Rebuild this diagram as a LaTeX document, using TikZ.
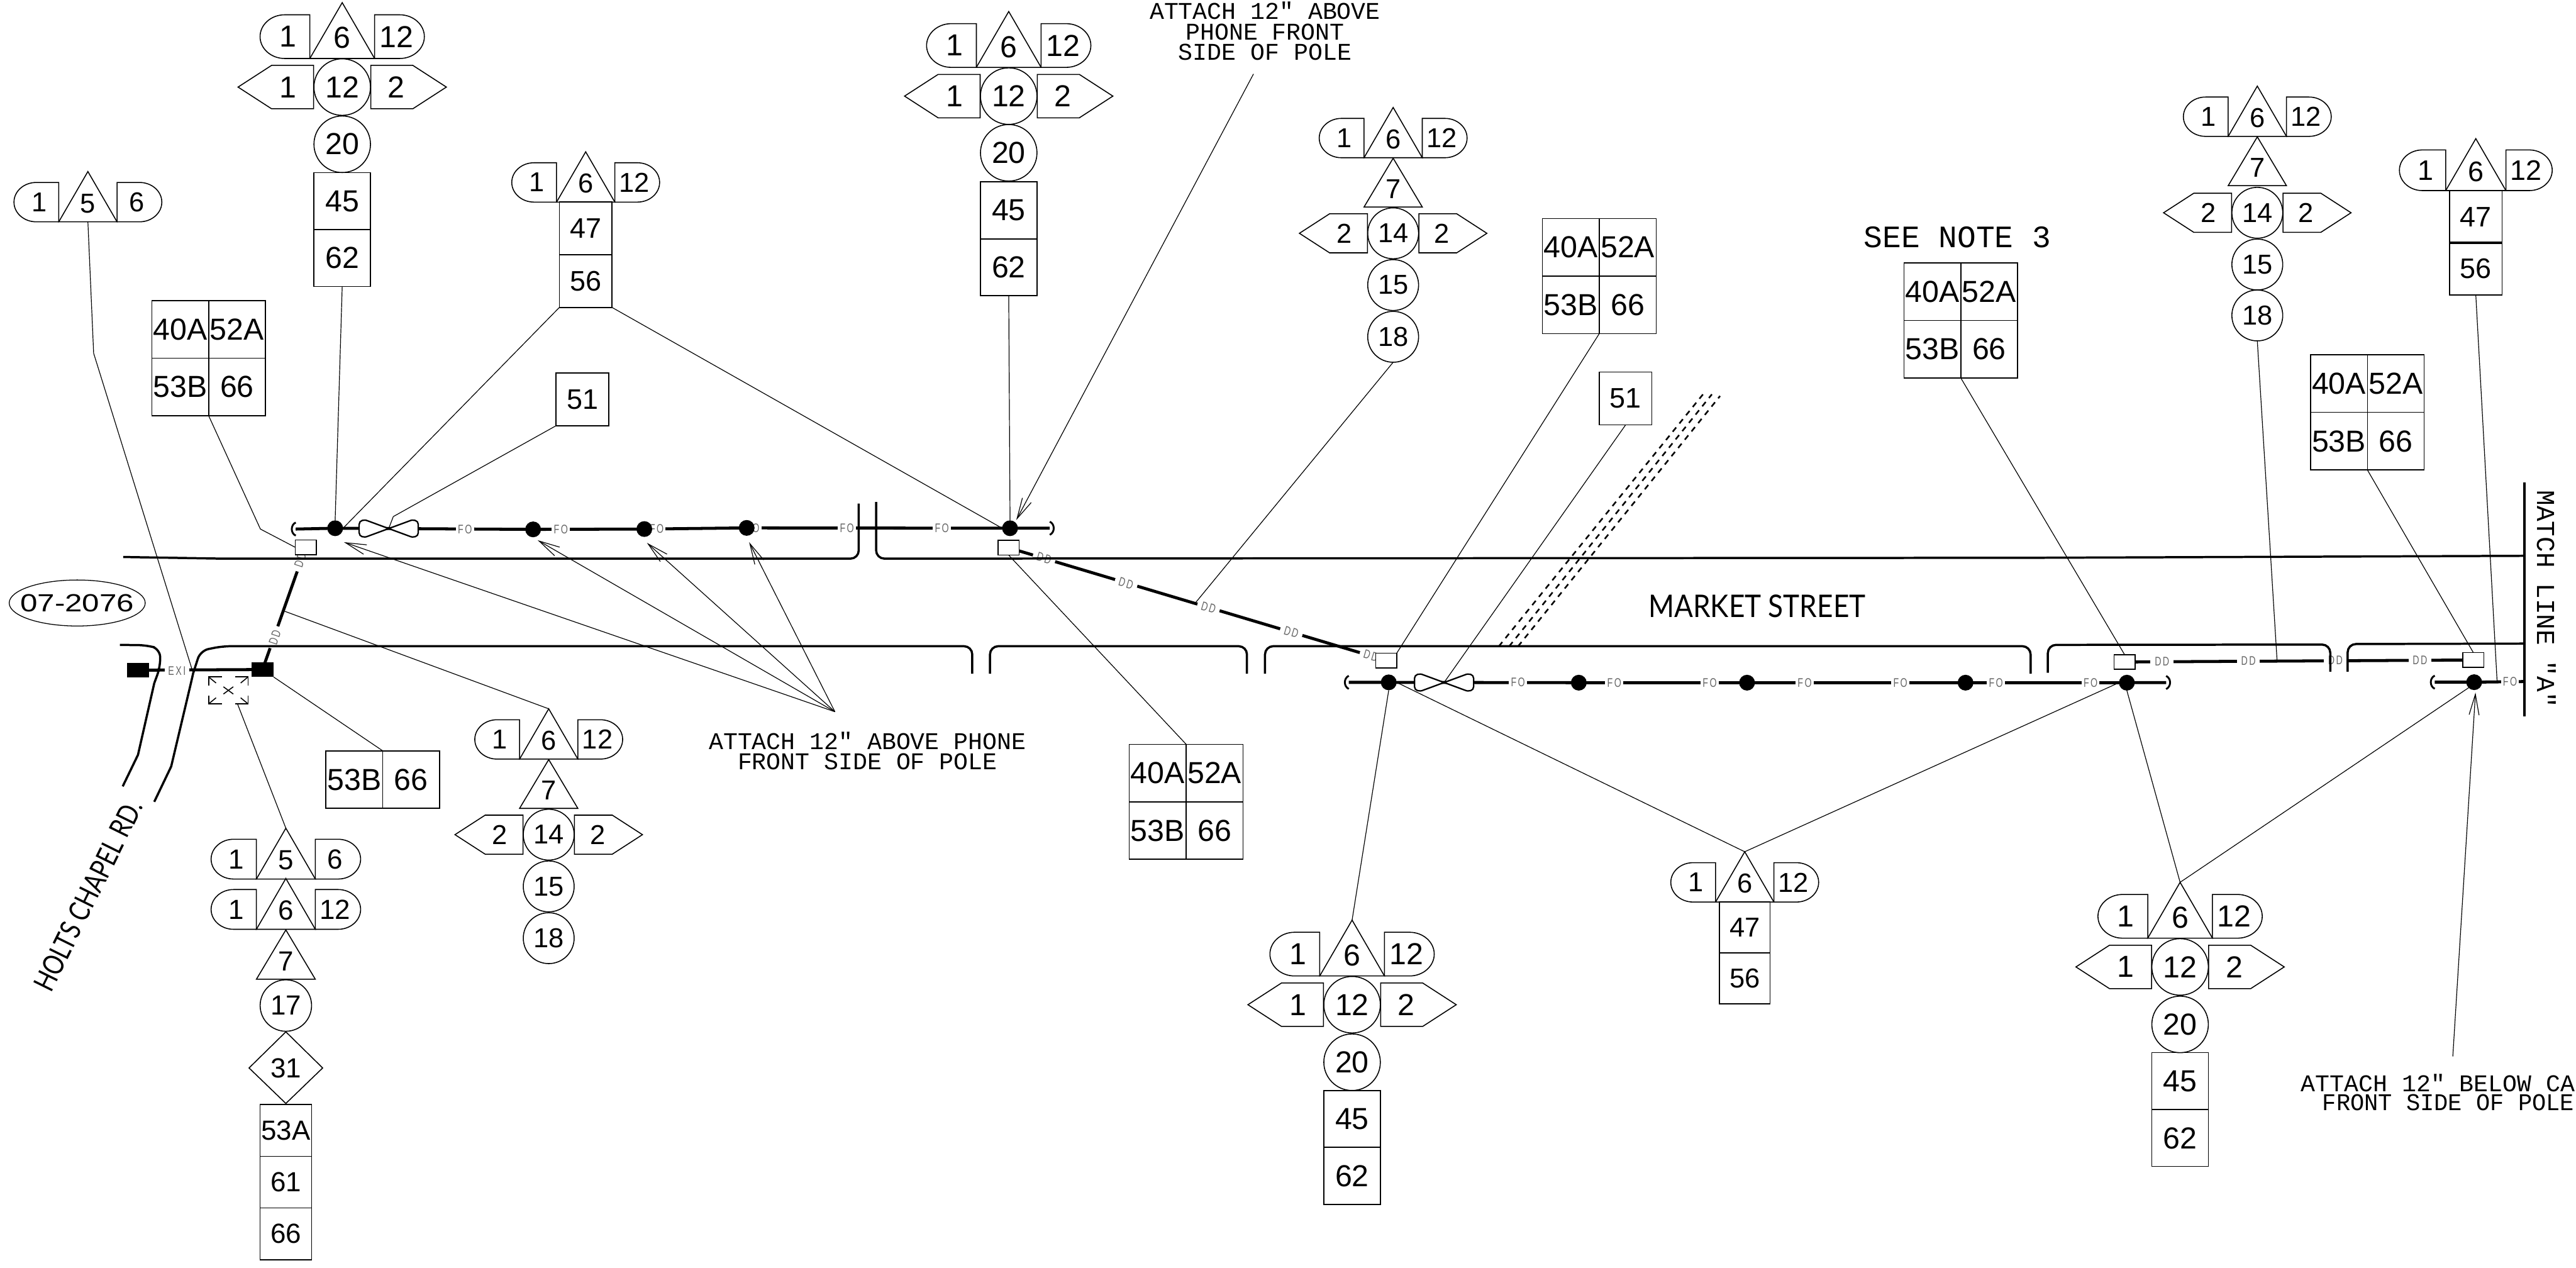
\documentclass[tikz,border=0pt]{standalone}
\usepackage{fontspec}
\setmainfont{Liberation Sans}
\newfontfamily\monof{Liberation Mono}
\newfontfamily\latof{Lato}
\usetikzlibrary{arrows.meta,shapes.geometric}
\pgfdeclarelayer{cables}
\pgfsetlayers{cables,main}
\def\SS{1}\def\FS{26.3}
\newcommand\setS[1]{\def\SS{#1}\pgfmathsetmacro\FS{26.3*#1}}
\newcommand\numf{\fontsize{\FS}{\FS}\selectfont}
\tikzset{
  sgn/.style={draw,line width=.85pt,line join=miter},
  num/.style={inner sep=0pt,outer sep=0pt,font=\numf},
  sgncirc/.style={num,draw,line width=.85pt,circle,minimum size={1.72cm*\SS}},
  sgnbox/.style={num,draw,line width=.85pt,rectangle,minimum width={1.72cm*\SS},minimum height={1.73cm*\SS}},
  gridbox/.style={num,draw,line width=.85pt,rectangle,minimum width=1.73cm,minimum height=1.75cm},
  leader/.style={draw,line width=.65pt},
  arrowed/.style={leader,-{Straight Barb[length=18pt,width=8.6pt,line width=.65pt]}},
  cable/.style={draw,line width=2.6pt},
  road/.style={draw,line width=1.9pt,rounded corners=.25cm},
  pole/.style={circle,fill=black,draw=none,inner sep=0pt,outer sep=0pt,minimum size=.48cm},
  sigbox/.style={rectangle,draw,line width=.85pt,fill=white,inner sep=0pt,outer sep=0pt,minimum width=.64cm,minimum height=.45cm},
  blk/.style={rectangle,fill=black,inner sep=0pt,outer sep=0pt,minimum width=.67cm,minimum height=.45cm},
  wlab/.style={fill=white,inner sep=0pt,outer sep=0pt,text=black!60,font=\fontsize{10.8}{10.8}\selectfont},
  note/.style={inner sep=0pt,align=center,font=\monof\fontsize{20.8}{17.6}\selectfont},
  capend/.style={draw,line width=1.6pt},
  tiewide/.style={draw,line width=1.25pt,fill=white,line join=round},
  tri3/.style={draw,line width=1.4pt,dash pattern=on 4.8pt off 4.4pt},
  xmark/.style={draw,line width=.85pt}
}
\newcommand\HeadT[6]{%
 \begin{scope}[shift={(#2,#3)},scale=\SS]
  \draw[sgn] (-19.7,0) -- (0,-34) -- (19.7,0) -- cycle;
  \draw[sgn] (-19.7,0) -- (-19.7,-26.6) -- (-35,-26.6) .. controls (-43.3,-26.6) and (-50,-20.6) .. (-50,-13.3) .. controls (-50,-6) and (-43.3,0) .. (-35,0) -- cycle;
  \draw[sgn] (19.7,0) -- (19.7,-26.6) -- (35,-26.6) .. controls (43.3,-26.6) and (50,-20.6) .. (50,-13.3) .. controls (50,-6) and (43.3,0) .. (35,0) -- cycle;
  \coordinate (#1-top) at (0,-34);
  \coordinate (#1-bot) at (0,0);
  \node[num] (#1-l) at (-33,-13.3) {#4};
  \node[num] (#1-c) at (0,-12.5) {#5};
  \node[num] (#1-r) at (33,-13.3) {#6};
 \end{scope}}
\newcommand\TriT[4]{%
 \begin{scope}[shift={(#2,#3)},scale=\SS]
  \draw[sgn] (-19.7,0) -- (0,-33) -- (19.7,0) -- cycle;
  \node[num] (#1) at (0,-12) {#4};
 \end{scope}}
\newcommand\ArrRow[6]{%
 \begin{scope}[shift={(#2,#3)},scale=\SS]
  \draw[sgn] (-17.4,-13.2) -- (-43,-13.2) -- (-63.4,0) -- (-43,13.2) -- (-17.4,13.2) -- cycle;
  \draw[sgn] (17.4,-13.2) -- (43,-13.2) -- (63.4,0) -- (43,13.2) -- (17.4,13.2) -- cycle;
  \node[sgncirc] (#1-c) at (0,0) {#5};
  \node[num] (#1-l) at (-33,0) {#4};
  \node[num] (#1-r) at (33,0) {#6};
 \end{scope}}
\newcommand\Circ[4]{\node[sgncirc] (#1) at (#2,#3) {#4};}
\newcommand\BoxN[4]{\node[sgnbox] (#1) at (#2,#3) {#4};}
\newcommand\GridN[7]{%
  \node[gridbox] (#1-a) at (#2-17.3,#3+17.5) {#4};
  \node[gridbox] (#1-b) at (#2+17.3,#3+17.5) {#5};
  \node[gridbox] (#1-c) at (#2-17.3,#3+52.5) {#6};
  \node[gridbox] (#1-d) at (#2+17.3,#3+52.5) {#7};
  \coordinate (#1-tm) at (#2,#3);
  \coordinate (#1-bm) at (#2,#3+70);}
\newcommand\Bowtie[3]{%
 \coordinate (#1) at (#2,#3);
 \begin{scope}[shift={(#2,#3)}]
  \draw[tiewide] (0,0) -- (-12.5,-4.6) .. controls (-15,-5.8) and (-18,-5) .. (-18,-2.5) -- (-18,2.5) .. controls (-18,5) and (-15,5.8) .. (-12.5,4.6) -- cycle;
  \draw[tiewide] (0,0) -- (12.5,-4.6) .. controls (15,-5.8) and (18,-5) .. (18,-2.5) -- (18,2.5) .. controls (18,5) and (15,5.8) .. (12.5,4.6) -- cycle;
 \end{scope}}
\newcommand\FOl[3]{\node[wlab,minimum width=.55cm] (#1) at (#2,#3) {\scalebox{.72}[1]{F\,O}};}
\newcommand\DDl[4]{\node[wlab,minimum width=.7cm,rotate=#4] (#1) at (#2,#3) {\scalebox{.72}[1]{D\,D}};}
\newcommand\CapL[3]{\draw[capend] (#1+2,#2-4) .. controls (#1-1.2,#2-2.5) and (#1-1.2,#2+2.5) .. (#1+2,#2+4);\coordinate (#3) at (#1+2,#2);}
\newcommand\CapR[3]{\draw[capend] (#1-2,#2-4) .. controls (#1+1.2,#2-2.5) and (#1+1.2,#2+2.5) .. (#1-2,#2+4);\coordinate (#3) at (#1-2,#2);}
\begin{document}
\begin{tikzpicture}[x=0.05cm,y=-0.05cm]
\useasboundingbox (0,0) rectangle (1568,771.4);

% ---------- poles, boxes
\CapL{178}{322}{capa}
\node[pole] (p1) at (204,321.5) {};
\node[pole] (p2) at (324.5,322.2) {};
\node[pole] (p3) at (392.2,322) {};
\node[pole] (p4) at (454.5,321.3) {};
\node[pole] (p5) at (614.8,321.5) {};
\CapR{641}{321.5}{capb}
\Bowtie{bow1}{236.6}{321.7}
\CapL{819}{415.3}{capc}
\node[pole] (p6) at (845.3,415.3) {};
\node[pole] (p7) at (961,415.5) {};
\node[pole] (p8) at (1063.4,415.5) {};
\node[pole] (p9) at (1196.4,415.5) {};
\node[pole] (p10) at (1294.6,415.5) {};
\CapR{1320.5}{415.4}{capd}
\Bowtie{bow2}{879}{415.4}
\CapL{1480}{415.2}{cape}
\node[pole] (p11) at (1506,415.2) {};
\coordinate (cf) at (1536.6,414.8);
\node[blk] (bk1) at (84,407.9) {};
\node[blk] (bk2) at (159.8,407.5) {};

% ---------- roads
\draw[road] (75,339) -- (135,340) -- (522.7,340) -- (522.7,306.5);
\draw[road] (533.3,305.5) -- (533.3,340) -- (1234,339.5) -- (1536,338.3);
\draw[road] (73,392.5) -- (89.4,392.7) -- (97.5,395) -- (97.5,406) -- (93.9,415.8);
\draw[line width=1.9pt,line join=round] (93.9,415.8) -- (84,459.4) -- (74.7,478.6);
\draw[road] (591.8,410) -- (591.8,393.3) -- (135.5,393.3) -- (122,396) -- (117.6,409.7);
\draw[line width=1.9pt,line join=round] (117.6,409.7) -- (116.2,415.8) -- (104.2,466.5) -- (93.9,488);
\draw[road] (602.6,410) -- (602.6,393.3) -- (759,393.3) -- (759,410);
\draw[road] (770,410) -- (770,393.3) -- (1236,393.3) -- (1236,410);
\draw[road] (1246.5,409.5) -- (1246.5,392.5) -- (1418.4,392.3) -- (1418.4,408.8);
\draw[road] (1429,408.8) -- (1429,392) -- (1536,391.7);
\coordinate (mla) at (1536.6,293.8);
\coordinate (mlb) at (1536.6,436);
\draw[line width=1.9pt] (mla) -- (mlb);
\node[rotate=-90,inner sep=0pt,font=\monof\fontsize{22.4}{22.4}\selectfont] (matchl) at (1550,364.5) {MATCH LINE ″A″};

% ---------- crossing dashed lines
\coordinate (da1) at (912.3,393.4);\coordinate (da2) at (1037,239.5);
\coordinate (db1) at (918.6,393.4);\coordinate (db2) at (1042,240);
\coordinate (dc1) at (924,393.4);\coordinate (dc2) at (1047,241);
\draw[tri3] (da1) -- (da2);\draw[tri3] (db1) -- (db2);\draw[tri3] (dc1) -- (dc2);

% ---------- X box
\begin{scope}[shift={(139,420.2)}]
 \coordinate (xb) at (0,0);
 \draw[xmark] (-4,-8.2) -- (-12,-8.2) -- (-12,-3); \draw[xmark] (-12,-8.2) -- (-7.5,-4.5);
 \draw[xmark] (4,-8.2) -- (12,-8.2) -- (12,-3); \draw[xmark] (12,-8.2) -- (7.5,-4.5);
 \draw[xmark] (-4,8.2) -- (-12,8.2) -- (-12,3); \draw[xmark] (-12,8.2) -- (-7.5,4.5);
 \draw[xmark] (4,8.2) -- (12,8.2) -- (12,3); \draw[xmark] (12,8.2) -- (7.5,4.5);
 \draw[xmark] (-3,-2.2) -- (3,2.2); \draw[xmark] (-3,2.2) -- (3,-2.2);
\end{scope}

% ---------- sign assemblies
\setS{1}
\HeadT{a}{208.3}{35.6}{1}{6}{12}
\ArrRow{ar}{208.3}{53}{1}{12}{2}
\Circ{a20}{208.3}{87.8}{20}\BoxN{a45}{208.3}{122.4}{45}\BoxN{a62}{208.3}{157}{62}

\HeadT{d}{614}{41}{1}{6}{12}
\ArrRow{dr}{614}{58.5}{1}{12}{2}
\Circ{d20}{614}{93}{20}\BoxN{d45}{614}{128}{45}\BoxN{d62}{614}{162.7}{62}

\HeadT{k}{823}{594}{1}{6}{12}
\ArrRow{kr}{823}{611.5}{1}{12}{2}
\Circ{k20}{823}{646.5}{20}\BoxN{k45}{823}{681}{45}\BoxN{k62}{823}{715.7}{62}

\HeadT{n}{1327}{571}{1}{6}{12}
\ArrRow{nr}{1327}{588.5}{1}{12}{2}
\Circ{n20}{1327}{623.5}{20}\BoxN{n45}{1327}{658}{45}\BoxN{n62}{1327}{692.7}{62}

\setS{0.9}
\HeadT{b}{53.5}{135}{1}{5}{6}

\HeadT{c}{356.5}{123}{1}{6}{12}
\HeadT{e}{848}{96}{1}{6}{12}
\TriT{e7}{848}{126}{7}
\ArrRow{er}{848}{142}{2}{14}{2}
\Circ{e15}{848}{173.5}{15}\Circ{e18}{848}{205}{18}

\HeadT{g}{1374}{83}{1}{6}{12}
\TriT{g7}{1374}{113}{7}
\ArrRow{gr}{1374}{129.5}{2}{14}{2}
\Circ{g15}{1374}{161}{15}\Circ{g18}{1374}{192}{18}

\HeadT{ph}{334}{462}{1}{6}{12}
\TriT{ph7}{334}{492}{7}
\ArrRow{phr}{334}{508}{2}{14}{2}
\Circ{ph15}{334}{539.5}{15}\Circ{ph18}{334}{571}{18}

\setS{0.91}
\HeadT{q}{174}{535}{1}{5}{6}
\HeadT{qq}{174}{565.6}{1}{6}{12}
\TriT{q7}{174}{596}{7}
\Circ{q17}{174}{612}{17}
\draw[sgn] (174,628) -- (196.4,650) -- (174,671.6) -- (151.6,650) -- cycle;
\node[num] (q31) at (174,650) {31};
\BoxN{q53}{174}{688}{53A}\BoxN{q61}{174}{719.5}{61}\BoxN{q66}{174}{751}{66}

\setS{0.9}
\HeadT{m}{1062}{549}{1}{6}{12}
\BoxN{m47}{1062}{564.5}{47}\BoxN{m56}{1062}{595.5}{56}

\setS{0.93}
\BoxN{c47}{356.5}{139}{47}\BoxN{c56}{356.5}{171}{56}
\BoxN{c51}{354.5}{243}{51}
\BoxN{f51}{989.5}{242.5}{51}
\HeadT{j}{1507}{116}{1}{6}{12}
\BoxN{j47}{1507}{132}{47}\BoxN{j56}{1507}{163.5}{56}

\setS{1}
\GridN{g1}{127}{183}{40A}{52A}{53B}{66}
\GridN{g2}{973.5}{133}{40A}{52A}{53B}{66}
\GridN{g3}{1193.5}{160}{40A}{52A}{53B}{66}
\GridN{g4}{1441}{216}{40A}{52A}{53B}{66}
\GridN{g5}{722}{453}{40A}{52A}{53B}{66}
\node[gridbox] (s1) at (215.7,474.5) {53B};
\node[gridbox] (s2) at (250.3,474.5) {66};
\coordinate (s-tm) at (233,457);

% ---------- signal boxes
\node[sigbox] (sg1) at (186.1,333.1) {};
\node[sigbox] (sg2) at (614,333.4) {};
\node[sigbox] (sg3) at (843.8,402) {};
\node[sigbox] (sg4) at (1293.2,402.9) {};
\node[sigbox] (sg5) at (1505.5,401.7) {};

% ---------- cables behind everything
\begin{pgfonlayer}{cables}
\draw[cable] (capa) -- (p1.center) -- (p2.center) -- (p3.center) -- (p4.center) -- (p5.center) -- (capb);
\FOl{fa1}{283}{322.2}\FOl{fa2}{341.4}{322.2}\FOl{fa3}{399.7}{322}\FOl{fa4}{458}{321.3}\FOl{fa5}{515.5}{321.4}\FOl{fa6}{573.3}{321.5}
\draw[cable] (capc) -- (p6.center) -- (p7.center) -- (p8.center) -- (p9.center) -- (p10.center) -- (capd);
\FOl{fb1}{924}{415.4}\FOl{fb2}{982.6}{415.5}\FOl{fb3}{1040.7}{415.5}\FOl{fb4}{1098.5}{415.5}\FOl{fb5}{1156.7}{415.5}\FOl{fb6}{1214.9}{415.5}\FOl{fb7}{1272.5}{415.5}
\draw[cable] (cape) -- (p11.center) -- (cf);
\FOl{fc1}{1527.8}{415}
\draw[cable] (bk1) -- (bk2);
\node[wlab,minimum width=.75cm] (exi) at (107.7,408.5) {\scalebox{.72}[1]{E\,X\,I}};
\draw[cable] (bk2.center) -- (sg1.center);
\DDl{dd0}{167.3}{388}{71.7}\DDl{dd1}{182.8}{341}{71.7}
\draw[cable] (sg2.center) -- (sg3.center);
\DDl{dd2}{635.5}{339.8}{-16.5}\DDl{dd3}{685.4}{355}{-16.5}\DDl{dd4}{735.6}{369.7}{-16.5}\DDl{dd5}{786}{384.7}{-16.5}\DDl{dd6}{834.5}{399}{-16.5}
\draw[cable] (sg4.center) -- (sg5.center);
\DDl{dd7}{1316}{402.6}{0}\DDl{dd8}{1368.6}{402.3}{0}\DDl{dd9}{1421.5}{402}{0}\DDl{dd10}{1473}{401.8}{0}
\end{pgfonlayer}

% ---------- leaders
\coordinate (b1) at (57,215);\coordinate (b2) at (117.6,409.7);
\draw[leader] (b-bot) -- (b1) -- (b2);
\coordinate (g1l) at (158.5,322);
\draw[leader] (g1-bm) -- (g1l) -- (sg1.west);
\draw[leader] (a62.south) -- (p1.north);
\draw[leader] (c56.south west) -- (p1.east);
\draw[leader] (c56.south east) -- (p5.west);
\coordinate (c51l) at (239.4,314.4);
\draw[leader] (c51.south west) -- (c51l) -- (bow1);
\draw[leader] (d62.south) -- (p5.north);
\coordinate (e18l) at (727.9,366.6);
\draw[leader] (e18.south) -- (e18l);
\draw[leader] (g2-bm) -- (sg3.north east);
\draw[leader] (f51.south) -- (bow2);
\draw[leader] (g3-bm) -- (sg4.north);
\coordinate (g18l) at (1386,401.6);
\draw[leader] (g18.south) -- (g18l);
\draw[leader] (g4-bm) -- (sg5.north);
\coordinate (j56l) at (1520,415.5);
\draw[leader] (j56.south) -- (j56l);
\draw[leader] (k-top) -- (p6.south);
\draw[leader] (p6.east) -- (m-top) -- (p10.west);
\draw[leader] (p10.south) -- (n-top) -- (p11.south west);
\draw[leader] (sg2.south) -- (g5-tm);
\coordinate (ddj) at (173.2,372);
\draw[leader] (ddj) -- (ph-top);
\draw[leader] (bk2.south east) -- (s-tm);
\coordinate (xbb) at (144.6,428.5);
\draw[leader] (xbb) -- (q-top);

% ---------- notes with arrows
\node[note] (t1) at (528,457) {ATTACH 12″ ABOVE PHONE\\FRONT SIDE OF POLE};
\coordinate (cv) at (508.2,433.2);
\coordinate (tp1) at (209.4,330);\coordinate (tp2) at (327.3,328.8);\coordinate (tp3) at (393.8,330.4);\coordinate (tp4) at (456,330);
\draw[arrowed] (cv) -- (tp1);\draw[arrowed] (cv) -- (tp2);\draw[arrowed] (cv) -- (tp3);\draw[arrowed] (cv) -- (tp4);

\node[note] (t2) at (770,19) {ATTACH 12″ ABOVE\\PHONE FRONT\\SIDE OF POLE};
\coordinate (t2a) at (763,45);\coordinate (t2b) at (618.6,316.5);
\draw[arrowed] (t2a) -- (t2b);

\node[note,anchor=west,align=left] (t3a) at (1400.5,659) {ATTACH 12″ BELOW CA};
\node[note,anchor=west,align=left] (t3b) at (1413.5,671) {\scalebox{.97}[1]{FRONT SIDE OF POLE}};
\coordinate (t3c) at (1493,643);\coordinate (t3d) at (1506.8,421.5);
\draw[arrowed] (t3c) -- (t3d);

% ---------- titles
\node[inner sep=0pt,font=\monof\fontsize{27}{27}\selectfont] (note3) at (1191.5,144.5) {SEE NOTE 3};
\node[inner sep=0pt,font=\latof\fontsize{27}{27}\selectfont] (mkt) at (1069.5,369) {\scalebox{.89}[1]{MARKET STREET}};
\node[rotate=63.7,inner sep=0pt,font=\latof\fontsize{25}{25}\selectfont] (hol) at (53.5,545) {\scalebox{.8}[1]{HOLTS CHAPEL RD.}};
\node[ellipse,draw,line width=.7pt,inner sep=0pt,minimum width=4.14cm,minimum height=1.4cm] (oval) at (47,367) {};
\node[inner sep=0pt,font=\fontsize{21.5}{21.5}\selectfont] (ovaltext) at (47,367) {\scalebox{1.25}[1]{07-2076}};
\end{tikzpicture}
\end{document}
